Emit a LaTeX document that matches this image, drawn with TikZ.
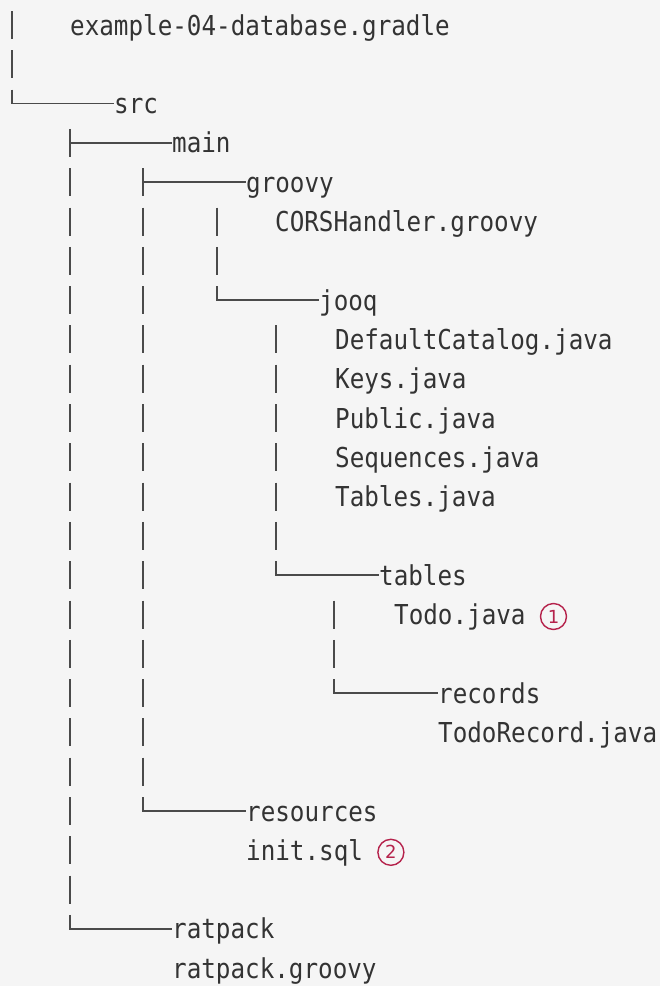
\documentclass[tikz,border=0pt]{standalone}
\usepackage{fontspec}
\setmonofont[FakeStretch=0.885]{DejaVu Sans Mono}
\newfontfamily\calloutfont{DejaVu Sans}
\usetikzlibrary{positioning}

\definecolor{codebg}{HTML}{F5F5F5}
\definecolor{codetext}{HTML}{333333}
\definecolor{treeline}{HTML}{4A4A4A}
\definecolor{calloutred}{HTML}{B5224B}

\def\rowtop{25}
\def\rowh{39.3}

\tikzset{
  entry/.style={anchor=west, inner sep=0pt, text height=22pt, text depth=2pt,
    font=\ttfamily\fontsize{27.4}{30}\selectfont, text=codetext},
  callout/.style={circle, draw=calloutred, line width=1.4pt, text=calloutred,
    inner sep=0pt, minimum size=26pt, font=\calloutfont\fontsize{18}{18}\selectfont},
  branch/.style={draw=treeline, line width=1.6pt}
}

\begin{document}
\begin{tikzpicture}[x=1pt,y=-1pt]
\useasboundingbox (0,0) rectangle (660,986);
\fill[codebg] (0,0) rectangle (660,986);

% entries
\node[entry] (gradle) at (70,{\rowtop+\rowh*0}) {example-04-database.gradle};
\node[entry] (src) at (114,{\rowtop+\rowh*2}) {src};
\node[entry] (main) at (172,{\rowtop+\rowh*3}) {main};
\node[entry] (groovy) at (246,{\rowtop+\rowh*4}) {groovy};
\node[entry] (cors) at (275,{\rowtop+\rowh*5}) {CORSHandler.groovy};
\node[entry] (jooq) at (319,{\rowtop+\rowh*7}) {jooq};
\node[entry] (catalog) at (335,{\rowtop+\rowh*8}) {DefaultCatalog.java};
\node[entry] (keys) at (335,{\rowtop+\rowh*9}) {Keys.java};
\node[entry] (public) at (335,{\rowtop+\rowh*10}) {Public.java};
\node[entry] (sequences) at (335,{\rowtop+\rowh*11}) {Sequences.java};
\node[entry] (tablesjava) at (335,{\rowtop+\rowh*12}) {Tables.java};
\node[entry] (tables) at (379,{\rowtop+\rowh*14}) {tables};
\node[entry] (todo) at (394,{\rowtop+\rowh*15}) {Todo.java};
\node[entry] (records) at (438,{\rowtop+\rowh*17}) {records};
\node[entry] (todorecord) at (438,{\rowtop+\rowh*18}) {TodoRecord.java};
\node[entry] (resources) at (246,{\rowtop+\rowh*20}) {resources};
\node[entry] (initsql) at (246,{\rowtop+\rowh*21}) {init.sql};
\node[entry] (ratpack) at (172,{\rowtop+\rowh*23}) {ratpack};
\node[entry] (ratpackgroovy) at (172,{\rowtop+\rowh*24}) {ratpack.groovy};

% callouts
\node[callout, right=14pt of todo, yshift=-2pt] (co1) {1};
\node[callout, right=14pt of initsql, yshift=-2pt] (co2) {2};

% vertical bars, one per row
\foreach \x/\first/\last in {12/0/1, 70/4/22, 143/5/19, 217/5/6, 276/8/13, 334/15/16}
  \foreach \r in {\first,...,\last}
    \draw[branch] (\x,{\rowtop+\rowh*\r-14}) -- ++(0,28);

% tees
\draw[branch] (70,{\rowtop+\rowh*3-14}) -- ++(0,28) (70,0 |- main.west) -- (main.west);
\draw[branch] (143,{\rowtop+\rowh*4-14}) -- ++(0,28) (143,0 |- groovy.west) -- (groovy.west);

% elbows
\draw[branch] (12,{\rowtop+\rowh*2-14}) |- (src.west);
\draw[branch] (217,{\rowtop+\rowh*7-14}) |- (jooq.west);
\draw[branch] (276,{\rowtop+\rowh*14-14}) |- (tables.west);
\draw[branch] (334,{\rowtop+\rowh*17-14}) |- (records.west);
\draw[branch] (143,{\rowtop+\rowh*20-14}) |- (resources.west);
\draw[branch] (70,{\rowtop+\rowh*23-14}) |- (ratpack.west);
\end{tikzpicture}
\end{document}
